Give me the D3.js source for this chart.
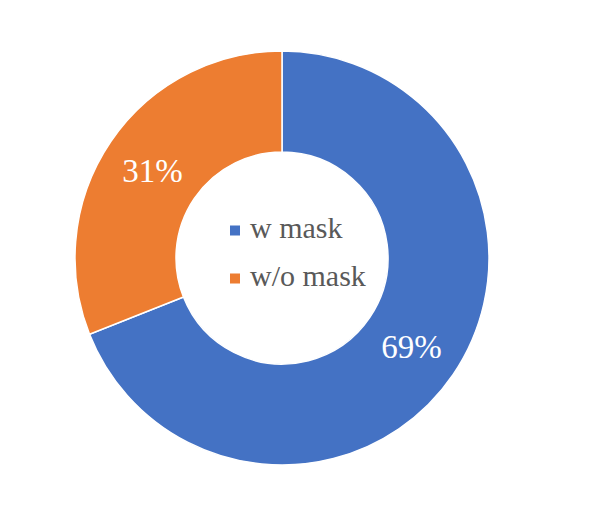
<!DOCTYPE html>
<html>
<head>
<meta charset="utf-8">
<script src="https://cdn.jsdelivr.net/npm/d3@7"></script>
<style>
  html, body { margin: 0; padding: 0; background: #ffffff; }
  svg { display: block; }
  .serif { font-family: "Liberation Serif", "Times New Roman", Times, serif; }
</style>
</head>
<body>
<svg id="chart" width="598" height="515"></svg>
<script>
const categories = ["w mask", "w/o mask"];
const values = [69, 31];
const labels = ["69%", "31%"];
const colors = ["#4472C4", "#ED7D31"];

const W = 598, H = 515;
const cx = 282, cy = 258;
const outerR = 207, innerR = 106;

const svg = d3.select("#chart");
const g = svg.append("g").attr("transform", `translate(${cx},${cy})`);

const pie = d3.pie().sort(null).value(d => d.value);
const data = pie(categories.map((c, i) => ({ name: c, value: values[i], label: labels[i], color: colors[i] })));
const arc = d3.arc().innerRadius(innerR).outerRadius(outerR);

g.selectAll("path.slice")
  .data(data)
  .enter().append("path")
  .attr("class", "slice")
  .attr("d", arc)
  .attr("fill", d => d.data.color)
  .attr("stroke", "#ffffff")
  .attr("stroke-width", 1.5);

g.selectAll("text.lbl")
  .data(data)
  .enter().append("text")
  .attr("class", "lbl serif")
  .attr("transform", d => `translate(${arc.centroid(d)})`)
  .attr("text-anchor", "middle")
  .attr("dy", "0.36em")
  .attr("fill", "#ffffff")
  .attr("font-size", 33)
  .text(d => d.data.label);

// Legend in the hole
const legend = svg.append("g").attr("transform", "translate(230,238)");
const rows = legend.selectAll("g.row")
  .data(categories)
  .enter().append("g")
  .attr("class", "row")
  .attr("transform", (d, i) => `translate(0,${i * 48})`);
rows.append("rect")
  .attr("x", 0).attr("y", -12.5)
  .attr("width", 10).attr("height", 10)
  .attr("fill", (d, i) => colors[i]);
rows.append("text")
  .attr("class", "serif")
  .attr("x", 20).attr("y", 0)
  .attr("fill", "#595959")
  .attr("font-size", 30)
  .text(d => d);
</script>
</body>
</html>
